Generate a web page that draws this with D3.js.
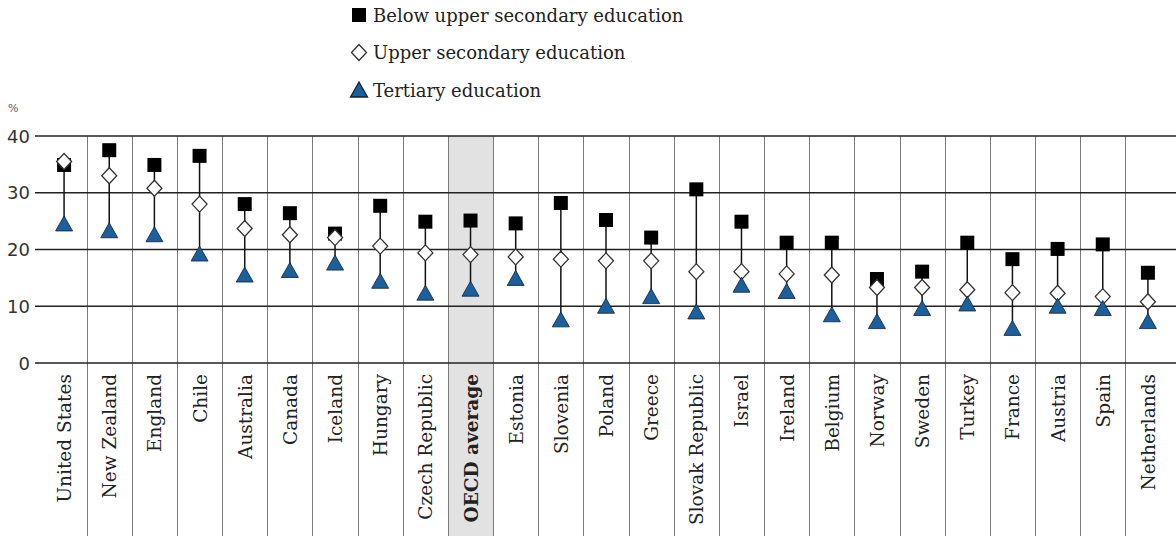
<!DOCTYPE html>
<html>
<head>
<meta charset="utf-8">
<script src="https://cdn.jsdelivr.net/npm/d3@7"></script>
<style>
  body { margin: 0; background: #fff; }
  svg { display: block; }
</style>
</head>
<body>
<div id="chart"></div>
<script>
const countries = ["United States", "New Zealand", "England", "Chile", "Australia", "Canada", "Iceland", "Hungary",
  "Czech Republic", "OECD average", "Estonia", "Slovenia", "Poland", "Greece", "Slovak Republic", "Israel",
  "Ireland", "Belgium", "Norway", "Sweden", "Turkey", "France", "Austria", "Spain", "Netherlands"];
const belowUpperSecondary = [34.9, 37.5, 34.9, 36.5, 28.0, 26.4, 22.8, 27.7, 24.9, 25.1, 24.6, 28.2, 25.2, 22.1, 30.6, 24.9,
  21.2, 21.2, 14.8, 16.1, 21.2, 18.3, 20.1, 20.9, 15.9];
const upperSecondary = [35.5, 33.0, 30.8, 28.0, 23.7, 22.6, 22.1, 20.6, 19.4, 19.1, 18.7, 18.3, 18.0, 18.0, 16.1, 16.1,
  15.7, 15.5, 13.3, 13.3, 12.9, 12.4, 12.3, 11.7, 10.8];
const tertiary = [24.5, 23.3, 22.6, 19.2, 15.5, 16.3, 17.6, 14.4, 12.3, 13.0, 14.9, 7.6, 10.0, 11.7, 9.0, 13.7,
  12.6, 8.5, 7.3, 9.6, 10.4, 6.1, 10.0, 9.6, 7.3];
const yTicks = [0, 10, 20, 30, 40];
const legendLabels = ["Below upper secondary education", "Upper secondary education", "Tertiary education"];
const highlight = "OECD average";

const width = 1176, height = 536;
const serif = "'DejaVu Serif', 'Liberation Serif', serif";
const blue = "#1b5f9c";

const svg = d3.select("#chart").append("svg")
  .attr("width", width)
  .attr("height", height)
  .attr("viewBox", `0 0 ${width} ${height}`);

const x = d3.scaleBand().domain(countries).range([41.5, 1170.5]).padding(0);
const y = d3.scaleLinear().domain([0, 40]).range([363, 136]);

// shaded OECD average column
svg.append("rect")
  .attr("x", x(highlight))
  .attr("y", y(40))
  .attr("width", x.bandwidth())
  .attr("height", height - y(40))
  .attr("fill", "#e2e2e2");

// column separators
svg.append("g").selectAll("line")
  .data(countries.slice(1))
  .join("line")
  .attr("x1", d => Math.round(x(d)) + 0.5)
  .attr("x2", d => Math.round(x(d)) + 0.5)
  .attr("y1", y(40))
  .attr("y2", height)
  .attr("stroke", "#7a7a7a")
  .attr("stroke-width", 1);

// horizontal gridlines
svg.append("g").selectAll("line")
  .data(yTicks)
  .join("line")
  .attr("x1", 35)
  .attr("x2", width)
  .attr("y1", d => y(d))
  .attr("y2", d => y(d))
  .attr("stroke", "#222")
  .attr("stroke-width", 1.5);

// y tick labels
svg.append("g").selectAll("text")
  .data(yTicks)
  .join("text")
  .attr("x", 30)
  .attr("y", d => y(d))
  .attr("text-anchor", "end")
  .attr("dominant-baseline", "central")
  .attr("font-family", "'DejaVu Sans', sans-serif")
  .attr("font-size", 18)
  .attr("fill", "#333")
  .text(d => d);

svg.append("text")
  .attr("x", 8)
  .attr("y", 112)
  .attr("font-family", serif)
  .attr("font-size", 11)
  .attr("fill", "#555")
  .text("%");

// x labels
svg.append("g").selectAll("text")
  .data(countries)
  .join("text")
  .attr("transform", d => `translate(${x(d) + x.bandwidth() / 2 + 7},374) rotate(-90)`)
  .attr("text-anchor", "end")
  .attr("font-family", serif)
  .attr("font-size", 18.5)
  .attr("font-weight", d => d === highlight ? "bold" : "normal")
  .attr("fill", "#222")
  .text(d => d);

const rows = countries.map((c, i) => ({
  c, below: belowUpperSecondary[i], upper: upperSecondary[i], tert: tertiary[i]
}));

const cx = d => x(d.c) + x.bandwidth() / 2;

// range lines
svg.append("g").selectAll("line")
  .data(rows)
  .join("line")
  .attr("x1", cx).attr("x2", cx)
  .attr("y1", d => y(Math.max(d.below, d.upper, d.tert)))
  .attr("y2", d => y(Math.min(d.below, d.upper, d.tert)))
  .attr("stroke", "#111")
  .attr("stroke-width", 1.5);

const sq = 14;
const squarePath = `M${-sq / 2},${-sq / 2}h${sq}v${sq}h${-sq}Z`;
const diamondPath = "M0,-8L7.5,0L0,8L-7.5,0Z";
const trianglePath = "M0,-9L8.5,6L-8.5,6Z";

// markers
const marks = svg.append("g");
marks.selectAll(".sq").data(rows).join("path")
  .attr("class", "sq")
  .attr("d", squarePath)
  .attr("transform", d => `translate(${cx(d)},${y(d.below)})`)
  .attr("fill", "#000");
marks.selectAll(".dm").data(rows).join("path")
  .attr("class", "dm")
  .attr("d", diamondPath)
  .attr("transform", d => `translate(${cx(d)},${y(d.upper)})`)
  .attr("fill", "#fff")
  .attr("stroke", "#333")
  .attr("stroke-width", 1.3);
marks.selectAll(".tr").data(rows).join("path")
  .attr("class", "tr")
  .attr("d", trianglePath)
  .attr("transform", d => `translate(${cx(d)},${y(d.tert) + 1})`)
  .attr("fill", blue)
  .attr("stroke", "#123")
  .attr("stroke-width", 0.8);

// legend
const legend = svg.append("g");
const legendShapes = [
  { d: squarePath, fill: "#000", stroke: "none" },
  { d: diamondPath, fill: "#fff", stroke: "#333" },
  { d: trianglePath, fill: blue, stroke: "#123" }
];
legendLabels.forEach((label, i) => {
  const ly = 15 + i * 37.5;
  legend.append("path")
    .attr("d", legendShapes[i].d)
    .attr("transform", `translate(359,${ly + (i === 2 ? 1 : 0)})`)
    .attr("fill", legendShapes[i].fill)
    .attr("stroke", legendShapes[i].stroke)
    .attr("stroke-width", 1.3);
  legend.append("text")
    .attr("x", 373)
    .attr("y", ly)
    .attr("dominant-baseline", "central")
    .attr("font-family", serif)
    .attr("font-size", 18)
    .attr("fill", "#222")
    .text(label);
});
</script>
</body>
</html>
